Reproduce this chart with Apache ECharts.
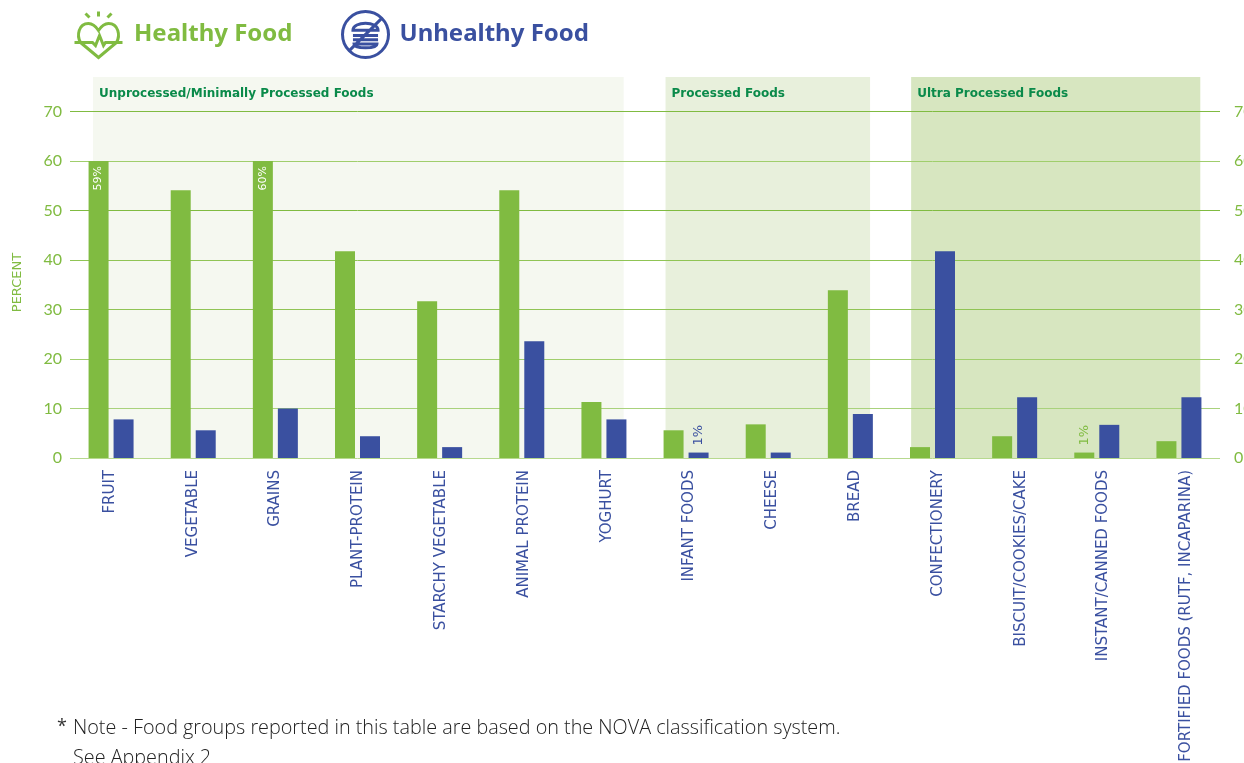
<!DOCTYPE html>
<html>
<head>
<meta charset="utf-8">
<style>
  html, body { margin: 0; padding: 0; background: #fff; overflow: hidden; }
  #main { width: 1244px; height: 763px; }
</style>
<script src="https://cdn.jsdelivr.net/npm/echarts@6/dist/echarts.min.js"></script>
</head>
<body>
<div id="main"></div>
<script>
const categories = ['FRUIT', 'VEGETABLE', 'GRAINS', 'PLANT-PROTEIN', 'STARCHY VEGETABLE', 'ANIMAL PROTEIN', 'YOGHURT',
  'INFANT FOODS', 'CHEESE', 'BREAD', 'CONFECTIONERY', 'BISCUIT/COOKIES/CAKE', 'INSTANT/CANNED FOODS', 'FORTIFIED FOODS (RUTF, INCAPARINA)'];
const healthy = [60, 54.1, 60, 41.8, 31.7, 54.1, 11.3, 5.6, 6.8, 33.9, 2.2, 4.4, 1.1, 3.4];
const unhealthy = [7.8, 5.6, 10, 4.4, 2.2, 23.6, 7.8, 1.1, 1.1, 8.9, 41.8, 12.3, 6.7, 12.3];
const healthyLabels = ['59%', '', '60%', '', '', '', '', '', '', '', '', '', '1%', ''];
const unhealthyLabels = ['', '', '', '', '', '', '', '1%', '', '', '', '', '', ''];
const groupNames = ['Unprocessed/Minimally Processed Foods', 'Processed Foods', 'Ultra Processed Foods'];
const groupSpans = [[0.28, 6.74], [7.25, 9.74], [10.24, 13.76]];
const groupColors = ['#f5f8f0', '#e8f0dc', '#d7e6c0'];

const GREEN = '#80bb41';
const BLUE = '#3a50a0';
const HEART = 'path://M24 0V5M11 2L15 6M37 2L33 6M0 31H18L21 34L25 24L29 34L31 31H48M6 31C2 24 4 12 14 12C19 12 22 16 24 19C26 16 29 12 34 12C44 12 46 24 42 31L24 46L6 31';
const BURGER = 'path://M1 23A22 22 0 1 1 45 23A22 22 0 1 1 1 23M38 8L8 38M11 19C11 10 35 10 35 19ZM11 24H35M11 28H35M12 32H34C34 37 12 37 12 32Z';

function legendFor(name, icon, color, left, width, height) {
  return {
    left: left,
    top: 10,
    padding: 0,
    itemWidth: width,
    itemHeight: height,
    selectedMode: false,
    data: [{
      name: name,
      icon: icon,
      itemStyle: { color: 'transparent', borderColor: color, borderWidth: 3 }
    }],
    textStyle: { fontFamily: 'Noto Sans', fontSize: 24, fontWeight: 'bold', color: color, padding: [0, 0, 4, 6] }
  };
}

function barData(values, labels, color) {
  return values.map(function (v, i) {
    if (!labels[i]) return v;
    // the tall bars carry their label inside, the short ones above
    const inside = v > 50;
    return {
      value: v,
      label: {
        show: true,
        formatter: labels[i],
        rotate: 90,
        position: inside ? 'insideTop' : 'top',
        align: inside ? 'right' : 'left',
        verticalAlign: 'middle',
        distance: inside ? 5 : 7,
        fontFamily: 'DejaVu Sans',
        fontSize: inside ? 11 : 13,
        color: inside ? '#fff' : color
      }
    };
  });
}

const chart = echarts.init(document.getElementById('main'));
chart.setOption({
  animation: false,
  backgroundColor: '#fff',
  legend: [
    legendFor('Healthy Food', HEART, GREEN, 73, 49, 46),
    legendFor('Unhealthy Food', BURGER, BLUE, 341, 46, 46)
  ],
  // second grid only carries the category labels, they run a little wider than the bars
  grid: [
    { left: 70, right: 24, top: 77, bottom: 305, outerBoundsMode: 'none' },
    { left: 68.6, right: 16.2, top: 77, bottom: 305, outerBoundsMode: 'none' }
  ],
  xAxis: [
    {
      type: 'category',
      data: categories,
      axisTick: { show: false },
      axisLine: { show: false },
      axisLabel: { show: false }
    },
    { type: 'value', min: 0, max: 14, show: false },
    {
      type: 'category',
      gridIndex: 1,
      data: categories,
      axisTick: { show: false },
      axisLine: { show: false },
      axisLabel: {
        interval: 0,
        rotate: 90,
        margin: 12,
        fontFamily: 'DejaVu Sans',
        fontSize: 15,
        color: BLUE
      }
    }
  ],
  yAxis: [
    {
      type: 'value',
      min: 0,
      max: 77,
      interval: 10,
      name: 'PERCENT',
      nameLocation: 'middle',
      nameGap: 46,
      nameTextStyle: { fontFamily: 'DejaVu Sans', fontSize: 13, color: GREEN, padding: [0, 30, 0, 0] },
      axisLine: { show: false },
      axisTick: { show: false },
      axisLabel: {
        showMaxLabel: false,
        margin: 8,
        fontFamily: 'Lato',
        fontSize: 16,
        color: GREEN
      },
      splitLine: {
        showMaxLine: false,
        lineStyle: { width: 1, color: ['#b7d98f', '#a9d27c', '#a0ce6c', '#90c455', '#90c455', '#80bb41', '#a0ce6c', '#80bb41'] }
      }
    },
    {
      type: 'value',
      position: 'right',
      min: 0,
      max: 77,
      interval: 10,
      axisLine: { show: false },
      axisTick: { show: false },
      splitLine: { show: false },
      axisLabel: {
        showMaxLabel: false,
        margin: 14,
        fontFamily: 'Lato',
        fontSize: 16,
        color: GREEN
      }
    },
    { type: 'value', gridIndex: 1, min: 0, max: 77, show: false }
  ],
  graphic: [
    { type: 'text', left: 57, top: 718, style: { text: '*', fontFamily: 'Open Sans', fontSize: 18, fill: '#333' } },
    { type: 'text', left: 73, top: 718, style: { text: 'Note - Food groups reported in this table are based on the NOVA classification system.', fontFamily: 'Open Sans', fontSize: 19.8, fontWeight: 300, fill: '#222' } },
    { type: 'text', left: 73, top: 748, style: { text: 'See Appendix 2', fontFamily: 'Open Sans', fontSize: 19.8, fontWeight: 300, fill: '#222' } }
  ],
  series: [
    {
      type: 'line',
      xAxisIndex: 1,
      yAxisIndex: 0,
      data: [],
      markArea: {
        silent: true,
        z: -1,
        data: groupNames.map(function (name, i) {
          return [
            {
              name: name,
              xAxis: groupSpans[i][0],
              itemStyle: { color: groupColors[i] },
              label: {
                show: true,
                position: 'insideTopLeft',
                distance: 0,
                padding: [11, 0, 0, 6],
                fontFamily: 'DejaVu Sans',
                fontSize: 12,
                fontWeight: 'bold',
                color: '#0a8a4a'
              }
            },
            { xAxis: groupSpans[i][1] }
          ];
        })
      }
    },
    {
      name: 'Healthy Food',
      type: 'bar',
      barWidth: 20,
      barGap: '25%',
      itemStyle: { color: GREEN },
      data: barData(healthy, healthyLabels, GREEN)
    },
    {
      name: 'Unhealthy Food',
      type: 'bar',
      barWidth: 20,
      barGap: '25%',
      itemStyle: { color: BLUE },
      data: barData(unhealthy, unhealthyLabels, BLUE)
    }
  ]
});
</script>
</body>
</html>
